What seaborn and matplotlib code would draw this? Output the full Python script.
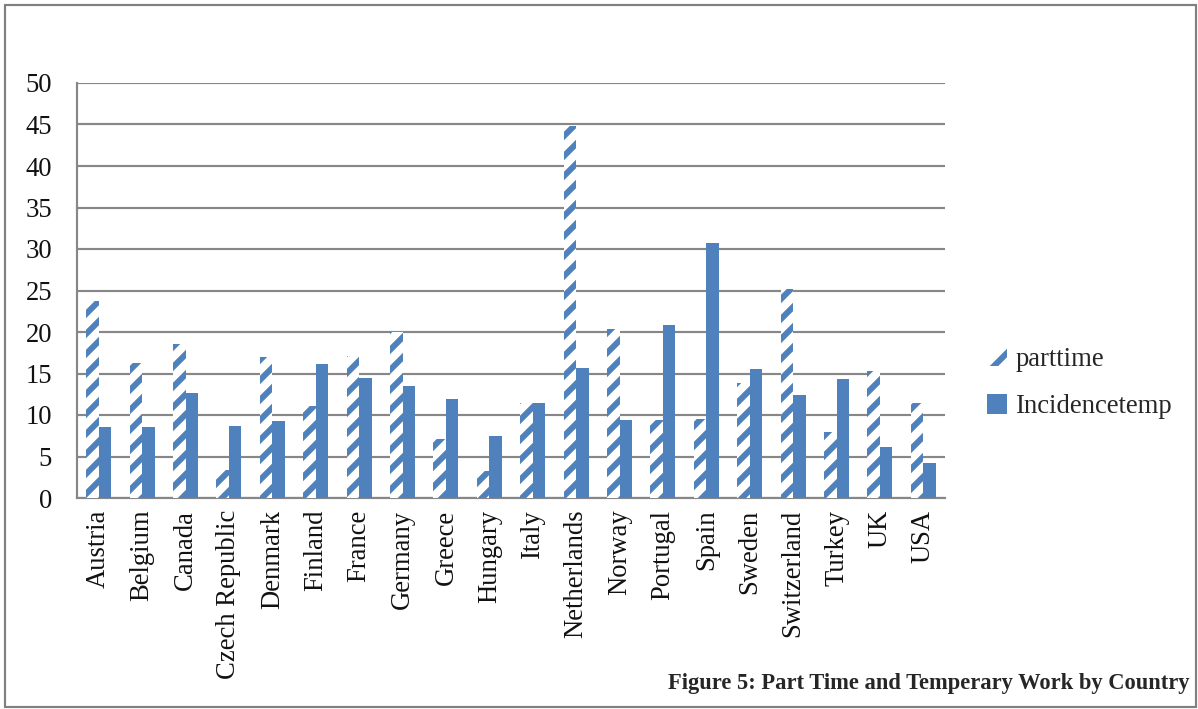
import matplotlib
matplotlib.use("Agg")
import matplotlib.pyplot as plt
import matplotlib.patches as mpatches
import pandas as pd
import seaborn as sns

countries = ["Austria", "Belgium", "Canada", "Czech Republic", "Denmark", "Finland",
             "France", "Germany", "Greece", "Hungary", "Italy", "Netherlands",
             "Norway", "Portugal", "Spain", "Sweden", "Switzerland", "Turkey",
             "UK", "USA"]
parttime = [23.7, 16.3, 18.6, 3.4, 17.0, 11.1, 17.1, 20.0, 7.1, 3.2, 11.5, 44.8,
            20.4, 9.4, 9.5, 13.9, 25.2, 8.0, 15.3, 11.5]
incidencetemp = [8.5, 8.6, 12.7, 8.7, 9.3, 16.1, 14.4, 13.5, 11.9, 7.5, 11.4, 15.7,
                 9.4, 20.8, 30.7, 15.6, 12.4, 14.3, 6.2, 4.2]
series_names = ["parttime", "Incidencetemp"]
y_ticks = list(range(0, 51, 5))
caption = "Figure 5: Part Time and Temperary Work by Country"

BLUE = "#4F81BD"
GRID = "#878787"
SERIF = ["Liberation Serif", "DejaVu Serif"]

sns.set_theme(style="white")
plt.rcParams["font.family"] = SERIF
plt.rcParams["hatch.linewidth"] = 3.6

df = pd.DataFrame({"country": countries,
                   series_names[0]: parttime,
                   series_names[1]: incidencetemp})
long = df.melt(id_vars="country", var_name="series", value_name="value")

fig = plt.figure(figsize=(1198 / 120, 709 / 120), dpi=120)
ax = fig.add_axes([77 / 1198, 211 / 709, (945 - 77) / 1198, (498 - 83) / 709])

sns.barplot(data=long, x="country", y="value", hue="series", hue_order=series_names,
            order=countries, palette=[BLUE, BLUE], saturation=1, width=0.58,
            gap=0, legend=False, ax=ax, zorder=3)

# first series: white bars with diagonal blue stripes
for bar in ax.containers[0]:
    bar.set_facecolor("white")
    bar.set_edgecolor(BLUE)
    bar.set_hatch("//")
    bar.set_linewidth(0)
for bar in ax.containers[1]:
    bar.set_linewidth(0)

ax.set_ylim(0, 50)
ax.set_xlim(-0.5, len(countries) - 0.5)
ax.set_yticks(y_ticks)
ax.set_yticklabels([str(v) for v in y_ticks], fontsize=16, color="#111111")
ax.set_xticks(range(len(countries)))
ax.set_xticklabels(countries, rotation=90, fontsize=16, color="#111111")
ax.tick_params(axis="y", length=0, pad=15)
ax.tick_params(axis="x", length=0, pad=7)
ax.set_xlabel("")
ax.set_ylabel("")

ax.yaxis.grid(True, color=GRID, linewidth=1.3, zorder=0)
ax.set_axisbelow(True)
for side in ["top", "right"]:
    ax.spines[side].set_visible(False)
for side in ["left", "bottom"]:
    ax.spines[side].set_color(GRID)
    ax.spines[side].set_linewidth(1.3)

handles = [
    mpatches.Patch(facecolor="white", edgecolor=BLUE, hatch="/", linewidth=0),
    mpatches.Patch(facecolor=BLUE, edgecolor=BLUE, linewidth=0),
]
fig.legend(handles, series_names, loc="center left",
           bbox_to_anchor=(976 / 1198, (709 - 383) / 709), frameon=False,
           fontsize=16, handlelength=0.75, handleheight=0.75, handletextpad=0.35,
           labelspacing=0.85, borderaxespad=0)

fig.text(1190 / 1198, (709 - 684) / 709, caption, ha="right", va="center",
         fontsize=13.5, fontweight="bold", family=SERIF)

# outer frame of the chart area
fig.patches.append(mpatches.Rectangle((5 / 1198, 2 / 709), 1191 / 1198, 702 / 709,
                                      transform=fig.transFigure, fill=False,
                                      edgecolor="#808080", linewidth=1.3))

fig.savefig("out.png", dpi=120, facecolor="white")
